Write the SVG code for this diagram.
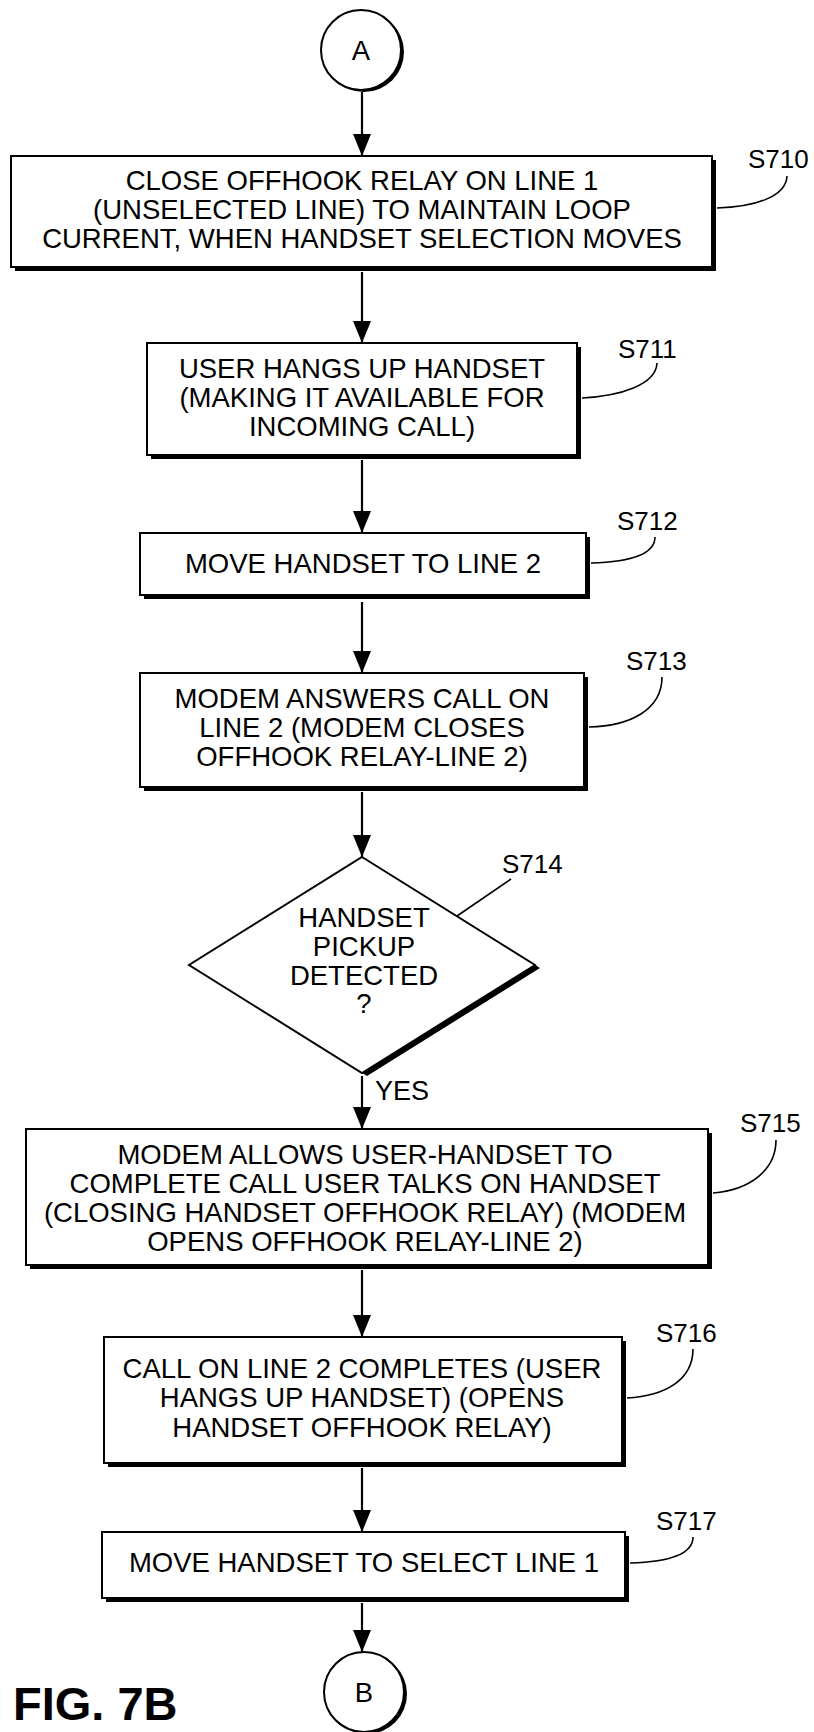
<svg xmlns="http://www.w3.org/2000/svg" width="814" height="1732" viewBox="0 0 814 1732">
<style>
  .bg{fill:#fff}
  .sh{fill:#000}
  .bx{fill:#fff;stroke:#000;stroke-width:2}
  .t{font-family:"Liberation Sans",Arial,Helvetica,sans-serif;font-size:27.5px;fill:#000;text-anchor:middle}
  .lb{font-family:"Liberation Sans",Arial,Helvetica,sans-serif;font-size:26px;fill:#000}
  .fig{font-family:"Liberation Sans",Arial,Helvetica,sans-serif;font-size:47px;font-weight:bold;fill:#000}
  .ld{fill:none;stroke:#000;stroke-width:1.6}
  .cn{fill:none;stroke:#000;stroke-width:2.2}
</style>
<defs>
  <marker id="ah" viewBox="0 0 22 18" refX="22" refY="9" markerWidth="22" markerHeight="18" markerUnits="userSpaceOnUse" orient="auto">
    <path d="M0,0 L22,9 L0,18 z" fill="#000"/>
  </marker>
</defs>
<rect class="bg" x="0" y="0" width="814" height="1732"/>

<g id="connectors">
  <path class="cn" d="M362,92 L362,156" marker-end="url(#ah)"/>
  <path class="cn" d="M362,272 L362,343" marker-end="url(#ah)"/>
  <path class="cn" d="M362,460 L362,533" marker-end="url(#ah)"/>
  <path class="cn" d="M362,602 L362,673" marker-end="url(#ah)"/>
  <path class="cn" d="M362,792 L362,857" marker-end="url(#ah)"/>
  <path class="cn" d="M362,1076 L362,1129" marker-end="url(#ah)"/>
  <text class="lb" x="375" y="1100" style="font-size:27px">YES</text>
  <path class="cn" d="M362,1270 L362,1337" marker-end="url(#ah)"/>
  <path class="cn" d="M362,1468 L362,1532" marker-end="url(#ah)"/>
  <path class="cn" d="M362,1603 L362,1652" marker-end="url(#ah)"/>
</g>

<g id="A">
  <circle class="sh" cx="364" cy="52" r="40"/>
  <circle class="bx" cx="361" cy="50" r="40"/>
  <text class="t" x="361" y="60">A</text>
</g>

<g id="S710">
  <rect class="sh" x="15" y="160" width="701" height="111"/>
  <rect class="bx" x="11" y="156" width="701" height="111"/>
  <text class="t" x="362" y="190">CLOSE OFFHOOK RELAY ON LINE 1</text>
  <text class="t" x="362" y="219">(UNSELECTED LINE) TO MAINTAIN LOOP</text>
  <text class="t" x="362" y="248">CURRENT, WHEN HANDSET SELECTION MOVES</text>
  <path class="ld" d="M717,208 C752,207 786,198 787,176"/>
  <text class="lb" x="748" y="168">S710</text>
</g>

<g id="S711">
  <rect class="sh" x="151" y="347" width="430" height="112"/>
  <rect class="bx" x="147" y="343" width="430" height="112"/>
  <text class="t" x="362" y="378">USER HANGS UP HANDSET</text>
  <text class="t" x="362" y="407">(MAKING IT AVAILABLE FOR</text>
  <text class="t" x="362" y="436">INCOMING CALL)</text>
  <path class="ld" d="M582,398 C620,396 656,385 657,363"/>
  <text class="lb" x="618" y="358">S711</text>
</g>

<g id="S712">
  <rect class="sh" x="144" y="537" width="446" height="62"/>
  <rect class="bx" x="140" y="533" width="446" height="62"/>
  <text class="t" x="363" y="573">MOVE HANDSET TO LINE 2</text>
  <path class="ld" d="M591,563 C628,562 655,555 655,537"/>
  <text class="lb" x="617" y="530">S712</text>
</g>

<g id="S713">
  <rect class="sh" x="144" y="677" width="444" height="114"/>
  <rect class="bx" x="140" y="673" width="444" height="114"/>
  <text class="t" x="362" y="708">MODEM ANSWERS CALL ON</text>
  <text class="t" x="362" y="737">LINE 2 (MODEM CLOSES</text>
  <text class="t" x="362" y="766">OFFHOOK RELAY-LINE 2)</text>
  <path class="ld" d="M589,727 C630,726 662,710 662,677"/>
  <text class="lb" x="626" y="670">S713</text>
</g>

<g id="S714">
  <polygon class="sh" points="367,860 540,968 367,1076 194,968"/>
  <polygon class="bx" points="362,857 535,965 362,1073 189,965"/>
  <text class="t" x="364" y="927">HANDSET</text>
  <text class="t" x="364" y="956">PICKUP</text>
  <text class="t" x="364" y="985">DETECTED</text>
  <text class="t" x="364" y="1013">?</text>
  <path class="ld" d="M511,879 L457,916"/>
  <text class="lb" x="502" y="873">S714</text>
</g>

<g id="S715">
  <rect class="sh" x="30" y="1133" width="682" height="136"/>
  <rect class="bx" x="26" y="1129" width="682" height="136"/>
  <text class="t" x="365" y="1164">MODEM ALLOWS USER-HANDSET TO</text>
  <text class="t" x="365" y="1193">COMPLETE CALL USER TALKS ON HANDSET</text>
  <text class="t" x="365" y="1222">(CLOSING HANDSET OFFHOOK RELAY) (MODEM</text>
  <text class="t" x="365" y="1251">OPENS OFFHOOK RELAY-LINE 2)</text>
  <path class="ld" d="M713,1193 C750,1190 776,1170 776,1140"/>
  <text class="lb" x="740" y="1132">S715</text>
</g>

<g id="S716">
  <rect class="sh" x="108" y="1341" width="518" height="126"/>
  <rect class="bx" x="104" y="1337" width="518" height="126"/>
  <text class="t" x="362" y="1378">CALL ON LINE 2 COMPLETES (USER</text>
  <text class="t" x="362" y="1407">HANGS UP HANDSET) (OPENS</text>
  <text class="t" x="362" y="1437">HANDSET OFFHOOK RELAY)</text>
  <path class="ld" d="M627,1398 C665,1396 693,1380 693,1349"/>
  <text class="lb" x="656" y="1342">S716</text>
</g>

<g id="S717">
  <rect class="sh" x="106" y="1536" width="523" height="66"/>
  <rect class="bx" x="102" y="1532" width="523" height="66"/>
  <text class="t" x="364" y="1572">MOVE HANDSET TO SELECT LINE 1</text>
  <path class="ld" d="M630,1563 C668,1562 693,1555 693,1537"/>
  <text class="lb" x="656" y="1530">S717</text>
</g>

<g id="B">
  <circle class="sh" cx="367" cy="1694" r="40"/>
  <circle class="bx" cx="364" cy="1692" r="40"/>
  <text class="t" x="364" y="1702">B</text>
</g>

<text class="fig" x="13" y="1720">FIG. 7B</text>
</svg>
